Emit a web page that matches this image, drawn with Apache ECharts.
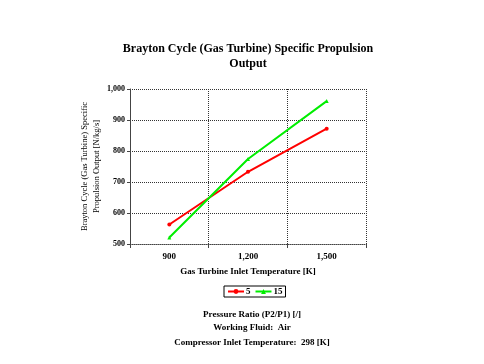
<!DOCTYPE html>
<html><head><meta charset="utf-8">
<script src="https://cdn.jsdelivr.net/npm/echarts@6/dist/echarts.min.js"></script>
<style>html,body{margin:0;padding:0;background:#fff}#c{width:484px;height:364px}</style>
</head><body><div id="c"></div>
<script>
const categories = ['900', '1,200', '1,500'];
const ratio5 = [563, 733, 872];
const ratio15 = [521, 774, 961];
const seriesNames = ['5', '15'];
const yMin = 500, yMax = 1000, yStep = 100;

const F = 'Liberation Serif, Times New Roman, serif';
const chart = echarts.init(document.getElementById('c'));
chart.setOption({
  backgroundColor: '#fff',
  animation: false,
  title: [
    {text: 'Brayton Cycle (Gas Turbine) Specific Propulsion\nOutput', left: 243, top: 36, textAlign: 'center',
     textStyle: {fontFamily: F, fontSize: 12, fontWeight: 'bold', color: '#000', lineHeight: 15}},
    {text: 'Pressure Ratio (P2/P1) [/]', left: 247, top: 305, textAlign: 'center',
     textStyle: {fontFamily: F, fontSize: 9, fontWeight: 'bold', color: '#000'}},
    {text: 'Working Fluid:  Air', left: 247, top: 318, textAlign: 'center',
     textStyle: {fontFamily: F, fontSize: 9, fontWeight: 'bold', color: '#000'}},
    {text: 'Compressor Inlet Temperature:  298 [K]', left: 247, top: 333, textAlign: 'center',
     textStyle: {fontFamily: F, fontSize: 9, fontWeight: 'bold', color: '#000'}}
  ],
  legend: {
    data: seriesNames, orient: 'horizontal', left: 224, top: 286,
    padding: [1, 3, 1, 3], itemGap: 4, itemWidth: 16, itemHeight: 6,
    borderColor: '#000', borderWidth: 1,
    textStyle: {fontFamily: F, fontSize: 9, fontWeight: 'bold', color: '#000', padding: [0, 0, 0, -3]}
  },
  grid: {left: 130, right: 118, top: 89, bottom: 120, containLabel: false},
  xAxis: {
    type: 'category', data: categories, boundaryGap: true,
    name: 'Gas Turbine Inlet Temperature [K]', nameLocation: 'middle', nameGap: 23,
    nameTextStyle: {fontFamily: F, fontSize: 9, fontWeight: 'bold', color: '#000'},
    axisLine: {lineStyle: {color: '#444', type: 'dotted', width: 1}},
    axisTick: {show: true, length: 4, lineStyle: {color: '#444'}},
    axisLabel: {fontFamily: F, fontSize: 9, fontWeight: 'bold', color: '#000', margin: 8},
    splitLine: {show: true, lineStyle: {color: '#333', type: 'dotted', width: 1}}
  },
  yAxis: {
    type: 'value', min: yMin, max: yMax, interval: yStep,
    name: 'Brayton Cycle (Gas Turbine) Specific\nPropulsion Output [N/kg/s]', nameLocation: 'middle', nameGap: 17,
    nameTextStyle: {fontFamily: F, fontSize: 8.5, fontWeight: 'normal', color: '#000', lineHeight: 12},
    axisLine: {show: true, lineStyle: {color: '#444', width: 1}},
    axisTick: {show: true, length: 3, lineStyle: {color: '#444'}},
    axisLabel: {fontFamily: F, fontSize: 8, fontWeight: 'bold', color: '#000', margin: 5,
      formatter: v => v >= 1000 ? v.toLocaleString('en-US') : String(v)},
    splitLine: {show: true, lineStyle: {color: '#333', type: 'dotted', width: 1}}
  },
  series: [
    {name: seriesNames[0], type: 'line', data: ratio5, symbol: 'circle', symbolSize: 4,
     lineStyle: {color: '#ff0000', width: 2}, itemStyle: {color: '#ff0000'}},
    {name: seriesNames[1], type: 'line', data: ratio15, symbol: 'triangle', symbolSize: 4,
     lineStyle: {color: '#00ee00', width: 2}, itemStyle: {color: '#00ee00'}}
  ]
});
</script></body></html>
